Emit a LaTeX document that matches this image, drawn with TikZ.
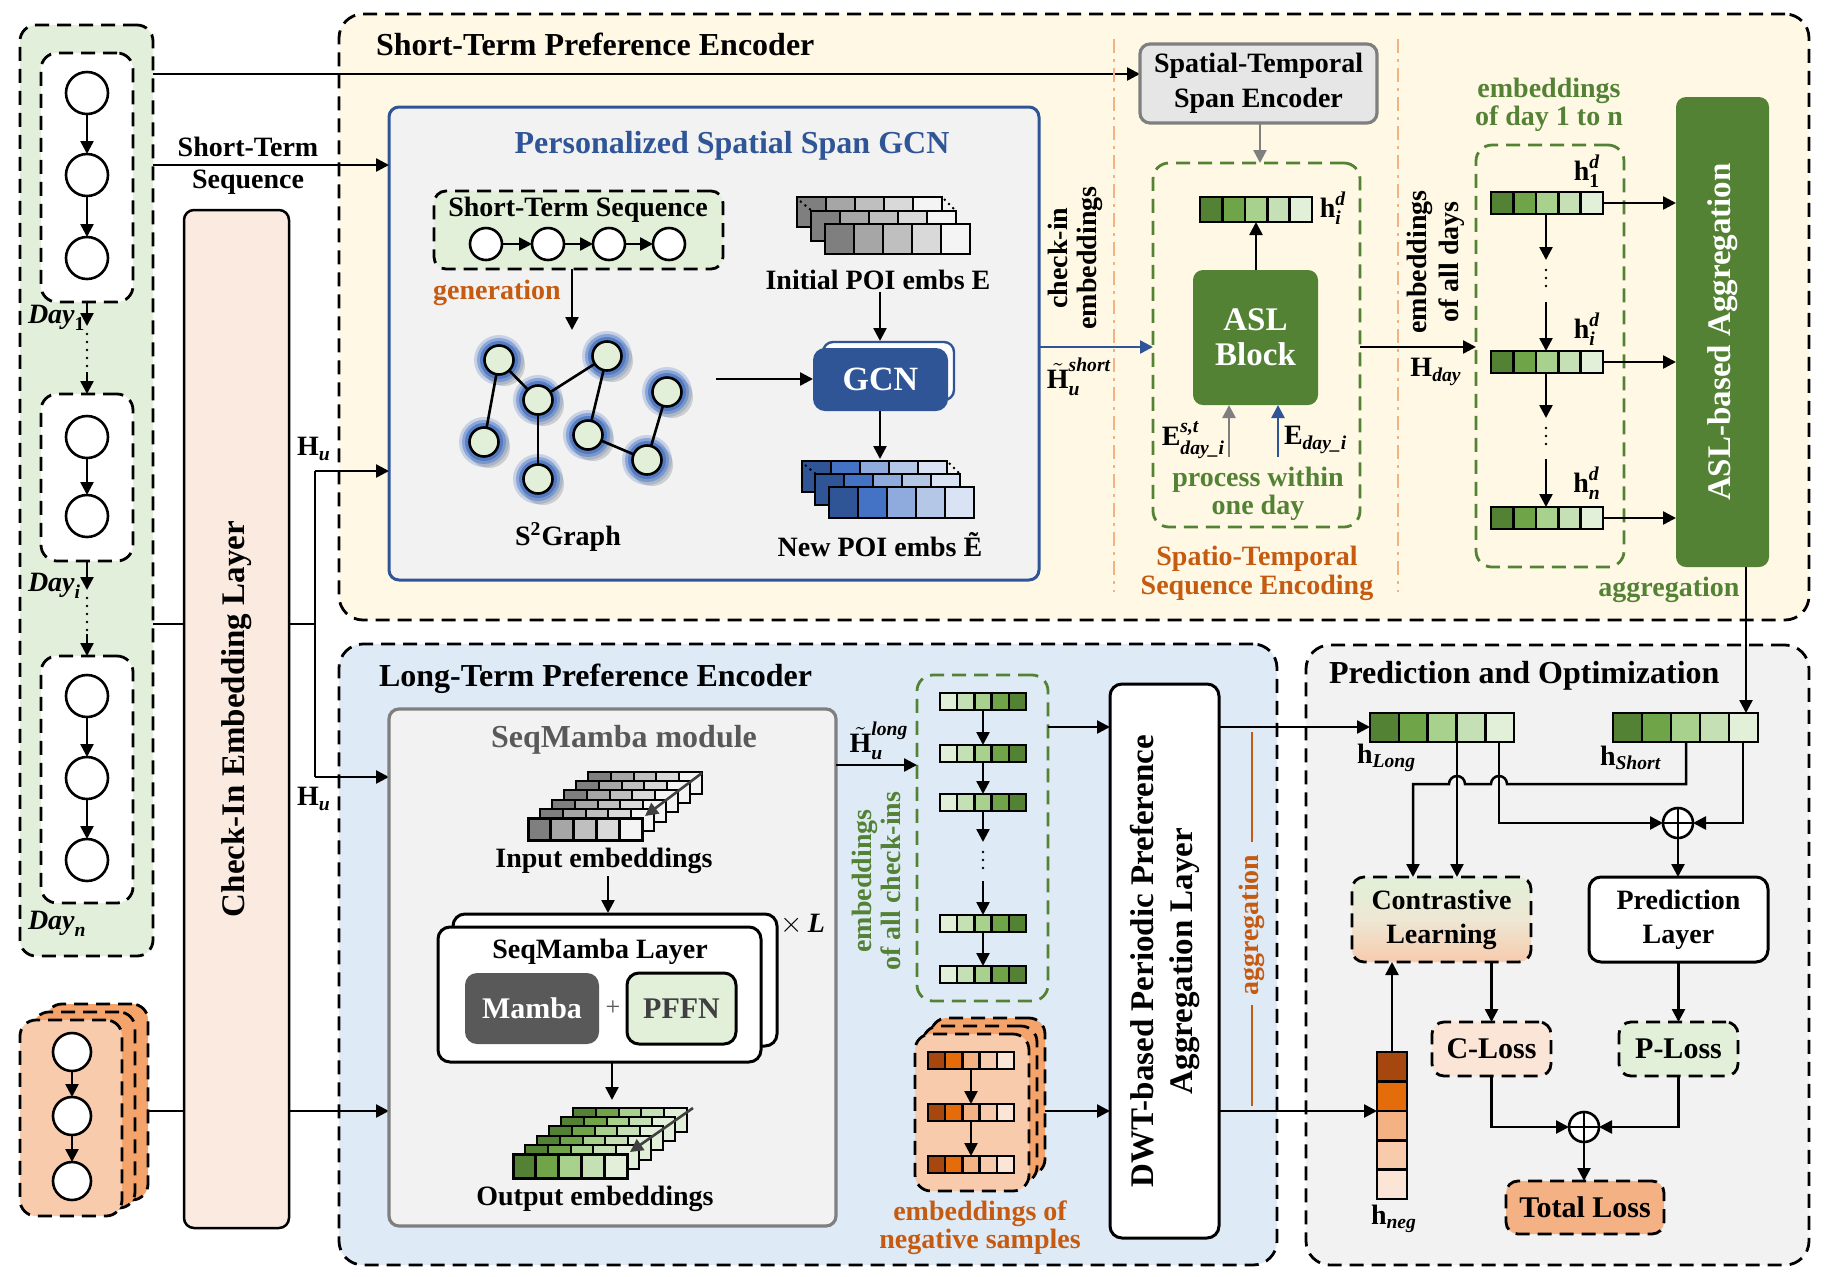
\documentclass[tikz,border=0pt]{standalone}
\usepackage{amsmath}
\usepackage{fontspec}
\setmainfont{Liberation Serif}
\usetikzlibrary{arrows.meta}
\definecolor{g1}{HTML}{548235}
\definecolor{g2}{HTML}{6FA548}
\definecolor{g3}{HTML}{A9D18E}
\definecolor{g4}{HTML}{C5E0B4}
\definecolor{g5}{HTML}{E2F0D9}
\definecolor{o1}{HTML}{A5470E}
\definecolor{o2}{HTML}{E46C0A}
\definecolor{o3}{HTML}{F4B183}
\definecolor{o4}{HTML}{F8CBAD}
\definecolor{o5}{HTML}{FBE5D6}
\definecolor{b1}{HTML}{2F5597}
\definecolor{b2}{HTML}{4472C4}
\definecolor{b3}{HTML}{8FAADC}
\definecolor{b4}{HTML}{B4C7E7}
\definecolor{b5}{HTML}{DAE3F3}
\definecolor{k1}{HTML}{7F7F7F}
\definecolor{k2}{HTML}{A6A6A6}
\definecolor{k3}{HTML}{BFBFBF}
\definecolor{k4}{HTML}{D9D9D9}
\definecolor{k5}{HTML}{F4F4F4}
\definecolor{dayg}{HTML}{E2EFDA}
\definecolor{cream}{HTML}{FFF8E5}
\definecolor{ltblue}{HTML}{DEEBF7}
\definecolor{ltgray}{HTML}{F2F2F2}
\definecolor{peach}{HTML}{FBEAE0}
\definecolor{orgtxt}{HTML}{C55A11}
\definecolor{orgback}{HTML}{F4A46A}
\definecolor{stgray}{HTML}{E7E6E6}
\definecolor{dgray}{HTML}{595959}
\definecolor{ddgray}{HTML}{404040}
\definecolor{midcl}{HTML}{EDE7D3}
\newcommand\fsz[2]{\fontsize{#1}{#2}\selectfont}
\newcommand\bnode[7][]{%
  \pgfmathsetmacro\bw{((#5)-(#3))*0.5}%
  \pgfmathsetmacro\bh{((#6)-(#4))*0.5}%
  \node[inner sep=0pt,outer sep=0pt,minimum width=\bw pt,minimum height=\bh pt,#1] (#2) at ({((#3)+(#5))/2},{((#4)+(#6))/2}) {#7};}
\newcommand\cellrow[6][1.3pt]{%
  \foreach \cc [count=\k from 0] in {#6} {%
    \filldraw[fill=\cc, draw=black, line width=#1] ({(#2)+\k*(#4)},{#3}) rectangle ++({#4},{#5});}}
\tikzset{
  every node/.style={inner sep=0pt, outer sep=0pt, font=\bfseries\fsz{14}{17}},
  arr/.style={line width=1.25pt, -{Triangle[length=6.5pt,width=6.5pt]}},
  ln/.style={line width=1.25pt},
  dsh/.style={line width=1.4pt, dash pattern=on 7pt off 4pt},
  dotln/.style={line width=1.4pt, line cap=round, dash pattern=on 0pt off 4pt},
  dc/.style={circle, draw, fill=white, line width=1.3pt, minimum size=21pt},
  sc/.style={circle, draw, fill=white, line width=1.3pt, minimum size=16pt},
  nc/.style={circle, draw, fill=white, line width=1.3pt, minimum size=19pt},
  gn/.style={circle, draw, fill=g5, line width=1.3pt, minimum size=14.5pt},
  oplus/.style={circle, draw, fill=white, line width=1.3pt, minimum size=15pt},
  ttl/.style={font=\bfseries\fsz{16}{19}},
}
\begin{document}
\begin{tikzpicture}[x=0.5pt,y=-0.5pt]
\useasboundingbox[fill=white] (0,0) rectangle (1828,1276);

% ---------------- panels ----------------
\bnode[draw,dsh,fill=dayg,rounded corners=8pt]{dayp}{20}{25}{153}{956}{}
\bnode[draw,dsh,fill=cream,rounded corners=12pt]{stp}{339}{14}{1809}{620}{}
\bnode[draw,dsh,fill=ltblue,rounded corners=12pt]{ltp}{339}{644}{1277}{1265}{}
\bnode[draw,dsh,fill=ltgray,rounded corners=12pt]{pop}{1306}{645}{1809}{1265}{}
\node[ttl,anchor=west] (stt) at (376,44) {Short-Term Preference Encoder};
\node[ttl,anchor=west] (ltt) at (379,679) {Long-Term Preference Encoder};
\node[ttl,anchor=west] (pot) at (1329,676) {Prediction and Optimization};

% ---------------- day sequences ----------------
\bnode[draw,dsh,fill=white,rounded corners=8pt]{d1}{41}{53}{133}{302}{}
\bnode[draw,dsh,fill=white,rounded corners=8pt]{di}{41}{394}{133}{561}{}
\bnode[draw,dsh,fill=white,rounded corners=8pt]{dn}{41}{656}{133}{903}{}
\node[dc] (c11) at (87,93) {};
\node[dc] (c12) at (87,175) {};
\node[dc] (c13) at (87,258) {};
\node[dc] (ci1) at (87,437) {};
\node[dc] (ci2) at (87,516) {};
\node[dc] (cn1) at (87,696) {};
\node[dc] (cn2) at (87,778) {};
\node[dc] (cn3) at (87,860) {};
\draw[arr] (c11) -- (c12);
\draw[arr] (c12) -- (c13);
\draw[arr] (ci1) -- (ci2);
\draw[arr] (cn1) -- (cn2);
\draw[arr] (cn2) -- (cn3);
\coordinate (a1) at (87,326); \coordinate (a2) at (87,334); \coordinate (a3) at (87,372);
\draw[arr] (d1.south) -- (a1);
\draw[dotln] (a2) -- (a3);
\draw[arr] (a3) -- (di.north);
\coordinate (b1c) at (87,590); \coordinate (b2c) at (87,598); \coordinate (b3c) at (87,634);
\draw[arr] (di.south) -- (b1c);
\draw[dotln] (b2c) -- (b3c);
\draw[arr] (b3c) -- (dn.north);
\node[anchor=west] (dl1) at (28,318) {$\textit{Day}_{\text{1}}$};
\node[anchor=west] (dli) at (28,586) {$\textit{Day}_{\textit{i}}$};
\node[anchor=west] (dln) at (28,924) {$\textit{Day}_{\textit{n}}$};

% ---------------- negative input stack ----------------
\bnode[draw,dsh,fill=orgback,rounded corners=8pt]{ng3}{46}{1004}{148}{1200}{}
\bnode[draw,dsh,fill=orgback,rounded corners=8pt]{ng2}{33}{1012}{135}{1208}{}
\bnode[draw,dsh,fill=o4,rounded corners=8pt]{ng1}{20}{1020}{122}{1216}{}
\node[nc] (nc1) at (72,1052) {};
\node[nc] (nc2) at (72,1116) {};
\node[nc] (nc3) at (72,1181) {};
\draw[arr] (nc1) -- (nc2);
\draw[arr] (nc2) -- (nc3);

% ---------------- check-in embedding layer ----------------
\bnode[draw,ln,fill=peach,rounded corners=5pt]{cil}{184}{210}{289}{1228}{}
\node[rotate=90,font=\bfseries\fsz{16.5}{19}] (cilt) at (cil.center) {Check-In Embedding Layer};

% ---------------- personalized spatial span GCN ----------------
\bnode[draw=b1,line width=1.5pt,fill=ltgray,rounded corners=5pt]{pss}{389}{107}{1039}{580}{}
\node[ttl,text=b1] (psst) at (732,146) {Personalized Spatial Span GCN};
\bnode[draw,dsh,fill=g5,rounded corners=6pt]{stsq}{434}{191}{723}{269}{}
\node (stsqt) at (578,210) {Short-Term Sequence};
\node[sc] (s1) at (486,244) {};
\node[sc] (s2) at (548,244) {};
\node[sc] (s3) at (609,244) {};
\node[sc] (s4) at (669,244) {};
\draw[arr] (s1) -- (s2);
\draw[arr] (s2) -- (s3);
\draw[arr] (s3) -- (s4);
\coordinate (gs) at (572,269); \coordinate (ge) at (572,330);
\draw[arr] (gs) -- (ge);
\node[text=orgtxt] (gen) at (497,293) {generation};
% graph
\foreach \px/\py in {499/360,538/400,607/356,484/442,538/479,588/435,667/392,647/460}{
  \fill[black,opacity=0.15] (\px+5,\py+5) circle (21);
  \fill[b2,opacity=0.25] (\px,\py) circle (25);
  \fill[b2,opacity=0.45] (\px,\py) circle (22);
  \fill[b2,opacity=0.75] (\px,\py) circle (19);
}
\node[gn] (n1) at (499,360) {};
\node[gn] (n2) at (538,400) {};
\node[gn] (n3) at (607,356) {};
\node[gn] (n4) at (484,442) {};
\node[gn] (n5) at (538,479) {};
\node[gn] (n6) at (588,435) {};
\node[gn] (n7) at (667,392) {};
\node[gn] (n8) at (647,460) {};
\foreach \u/\v in {n1/n2,n1/n4,n2/n3,n2/n5,n3/n6,n6/n8,n8/n7} \draw[line width=1.3pt] (\u) -- (\v);
\node (sgl) at (568,537) {S$^{\text{2}}$Graph};
% initial POI embeddings
\cellrow{797}{197}{29}{30}{k1,k2,k3,k4,k5}
\cellrow{811}{211}{29}{30}{k1,k2,k3,k4,k5}
\cellrow{825}{224}{29}{30}{k1,k2,k3,k4,k5}
\draw[line width=1pt,dotted] (800,201) -- (812,211);
\draw[line width=1pt,dotted] (944,199) -- (956,211);
\node (ipe) at (878,280) {Initial POI embs E};
\bnode[draw=b1,fill=white,line width=1.2pt,rounded corners=5pt]{gcnb}{823}{342}{954}{400}{}
\bnode[fill=b1,rounded corners=6pt,text=white,font=\bfseries\fsz{17}{20}]{gcn}{813}{348}{948}{411}{GCN}
\coordinate (ipa) at (880,292); \coordinate (ipb) at (880,341);
\draw[arr] (ipa) -- (ipb);
\coordinate (gra) at (716,379);
\draw[arr] (gra) -- (gcn.west |- 0,379);
\coordinate (npa) at (880,459);
\draw[arr] (gcn.south -| 880,0) -- (npa);
\cellrow{802}{461}{29}{31}{b1,b2,b3,b4,b5}
\cellrow{815}{474}{29}{31}{b1,b2,b3,b4,b5}
\cellrow{829}{487}{29}{31}{b1,b2,b3,b4,b5}
\draw[line width=1pt,dotted] (805,465) -- (817,475);
\draw[line width=1pt,dotted] (949,463) -- (961,475);
\node (npe) at (880,545) {New POI embs Ẽ};

% ---------------- left connectors ----------------
\node[font=\bfseries\fsz{14}{17}] (stl1) at (248,147) {Short-Term};
\node[font=\bfseries\fsz{14}{17}] (stl2) at (248,182) {Sequence};
\draw[arr] (dayp.east |- 0,74) -- (1140,74);
\draw[arr] (dayp.east |- 0,165) -- (pss.west |- 0,165);
\coordinate (hu) at (315,624);
\coordinate (hut) at (315,471);
\coordinate (hub) at (315,777);
\draw[ln] (dayp.east |- 0,624) -- (cil.west |- 0,624);
\draw[ln] (cil.east |- 0,624) -- (hu);
\draw[ln] (hut) -- (hub);
\draw[arr] (hut) -- (pss.west |- 0,471);
\draw[arr] (hub) -- (389,777);
\node (hu1) at (314,449) {$\text{H}_{\textit{u}}$};
\node (hu2) at (314,799) {$\text{H}_{\textit{u}}$};
\draw[ln] (ng3.east |- 0,1111) -- (cil.west |- 0,1111);
\draw[arr] (cil.east |- 0,1111) -- (389,1111);

% ---------------- spatio-temporal sequence encoding ----------------
\draw[draw=o3,line width=1.2pt,dash pattern=on 7pt off 3pt on 1.5pt off 3pt] (1114,39) -- (1114,592);
\draw[draw=o3,line width=1.2pt,dash pattern=on 7pt off 3pt on 1.5pt off 3pt] (1398,39) -- (1398,592);
\bnode[draw=k1,fill=stgray,line width=1.6pt,rounded corners=5pt,align=center,font=\bfseries\fsz{14}{17.5}]{stse}{1140}{44}{1377}{123}{Spatial-Temporal\\Span Encoder}
\bnode[draw=g1,dsh,rounded corners=8pt]{asl}{1153}{163}{1360}{527}{}
\draw[arr,draw=k1] (stse.south -| 1260,0) -- (asl.north -| 1260,0);
\draw[arr,draw=b1] (pss.east |- 0,347) -- (asl.west |- 0,347);
\node[rotate=90,align=center,font=\bfseries\fsz{14}{14.5}] (cie) at (1075,258) {check-in\\embeddings};
\node (hsh) at (1079,377) {$\tilde{\text{H}}^{\textit{short}}_{\textit{u}}$};
\cellrow{1200}{197}{22.4}{25}{g1,g2,g3,g4,g5}
\node (hid) at (1333,208) {$\text{h}^{\textit{d}}_{\textit{i}}$};
\bnode[fill=g1,rounded corners=5pt,text=white,align=center,font=\bfseries\fsz{16.5}{17.5}]{aslb}{1193}{270}{1318}{405}{ASL\\Block}
\coordinate (hidb) at (1256,222);
\draw[arr] (aslb.north -| 1256,0) -- (hidb);
\coordinate (ea) at (1229,457); \coordinate (eb) at (1278,457);
\draw[arr,draw=k1] (ea) -- (aslb.south -| 1229,0);
\draw[arr,draw=b1] (eb) -- (aslb.south -| 1278,0);
\node[anchor=east] (est) at (1225,440) {$\text{E}^{\textit{s,t}}_{\textit{day\_i}}$};
\node[anchor=west] (ed) at (1284,440) {$\text{E}_{\textit{day\_i}}$};
\node[text=g1,align=center,font=\bfseries\fsz{14}{14}] (pw) at (1258,494) {process within\\one day};
\node[text=orgtxt,align=center,font=\bfseries\fsz{14}{14.5}] (ste) at (1257,573) {Spatio-Temporal\\Sequence Encoding};

% ---------------- day embeddings ----------------
\bnode[draw=g1,dsh,rounded corners=8pt]{days}{1476}{145}{1624}{567}{}
\draw[arr] (asl.east |- 0,347) -- (days.west |- 0,347);
\node[rotate=90,align=center,font=\bfseries\fsz{14}{16}] (ead) at (1436,262) {embeddings\\of all days};
\node (hday) at (1436,372) {$\text{H}_{\textit{day}}$};
\node[text=g1,align=center,font=\bfseries\fsz{14}{14}] (edn) at (1549,105) {embeddings\\of day 1 to n};
\cellrow{1491}{192}{22.4}{22}{g1,g2,g3,g4,g5}
\cellrow{1491}{351}{22.4}{22}{g1,g2,g3,g4,g5}
\cellrow{1491}{507}{22.4}{22}{g1,g2,g3,g4,g5}
\node (h1d) at (1587,171) {$\text{h}^{\textit{d}}_{\text{1}}$};
\node (hid2) at (1587,329) {$\text{h}^{\textit{d}}_{\textit{i}}$};
\node (hnd) at (1587,483) {$\text{h}^{\textit{d}}_{\textit{n}}$};
\draw[arr] (1546,214) -- (1546,260);
\draw[dotln] (1546,270) -- (1546,292);
\draw[arr] (1546,302) -- (1546,351);
\draw[arr] (1546,373) -- (1546,418);
\draw[dotln] (1546,428) -- (1546,450);
\draw[arr] (1546,459) -- (1546,507);
\bnode[fill=g1,rounded corners=5pt]{aslagg}{1676}{97}{1769}{567}{}
\node[rotate=90,text=white,font=\bfseries\fsz{16.5}{19}] (aslaggt) at (aslagg.center) {ASL-based Aggregation};
\draw[arr] (1603,203) -- (aslagg.west |- 0,203);
\draw[arr] (1603,362) -- (aslagg.west |- 0,362);
\draw[arr] (1603,518) -- (aslagg.west |- 0,518);
\node[text=g1] (aggg) at (1669,590) {aggregation};

% ---------------- long-term: SeqMamba ----------------
\bnode[draw=k1,fill=ltgray,line width=1.6pt,rounded corners=5pt]{smm}{389}{709}{836}{1226}{}
\node[ttl,text=dgray] (smt) at (624,740) {SeqMamba module};
\foreach \i in {5,4,3,2,1}{\cellrow[1pt]{528+12*\i}{818-9.2*\i}{22.8}{22}{k1,k2,k3,k4,k5}}
\cellrow[1.5pt]{528}{818}{22.8}{22}{k1,k2,k3,k4,k5}
\draw[line width=1.3pt,draw=ddgray,-{Triangle[length=6.5pt,width=6.5pt]}] (702,773) -- (645,816);
\node (inp) at (604,861) {Input embeddings};
\coordinate (ina) at (608,876); \coordinate (inb) at (608,913);
\draw[arr] (ina) -- (inb);
\bnode[draw,fill=white,line width=1.5pt,rounded corners=6pt]{sml2}{453}{914}{777}{1046}{}
\bnode[draw,fill=white,line width=1.5pt,rounded corners=6pt]{sml}{438}{927}{761}{1062}{}
\node (smlt) at (600,952) {SeqMamba Layer};
\node (xl) at (803,925) {{\mdseries$\times$}\,\textit{L}};
\bnode[fill=dgray,rounded corners=6pt,text=white,font=\bfseries\fsz{15}{18}]{mam}{465}{973}{599}{1044}{Mamba}
\node[font=\mdseries\fsz{13}{13},text=dgray] (plus) at (613,1008) {+};
\bnode[draw,line width=1.5pt,fill=g5,rounded corners=6pt,text=ddgray,font=\bfseries\fsz{15}{18}]{pffn}{627}{973}{736}{1044}{PFFN}
\coordinate (oua) at (612,1100);
\draw[arr] (sml.south -| 612,0) -- (oua);
\foreach \i in {5,4,3,2,1}{\cellrow[1pt]{513+12*\i}{1154-9.2*\i}{22.8}{24}{g1,g2,g3,g4,g5}}
\cellrow[1.5pt]{513}{1154}{22.8}{24}{g1,g2,g3,g4,g5}
\draw[line width=1.3pt,draw=ddgray,-{Triangle[length=6.5pt,width=6.5pt]}] (693,1108) -- (630,1152);
\node (oute) at (595,1199) {Output embeddings};

% ---------------- all check-ins ----------------
\node (hlg) at (879,741) {$\tilde{\text{H}}^{\textit{long}}_{\textit{u}}$};
\bnode[draw=g1,dsh,rounded corners=8pt]{chk}{917}{675}{1048}{1001}{}
\draw[arr] (smm.east |- 0,765) -- (chk.west |- 0,765);
\foreach \yy in {693,745,794,915,966}{\cellrow[1.2pt]{940}{\yy}{17.2}{17}{g5,g4,g3,g2,g1}}
\draw[arr] (983,710) -- (983,745);
\draw[arr] (983,762) -- (983,794);
\draw[arr] (983,811) -- (983,842);
\draw[dotln] (983,852) -- (983,872);
\draw[arr] (983,881) -- (983,915);
\draw[arr] (983,932) -- (983,966);
\node[rotate=90,text=g1,align=center,font=\bfseries\fsz{14}{14.5}] (eac) at (876,881) {embeddings\\of all check-ins};

% ---------------- negative samples ----------------
\bnode[draw,dsh,fill=orgback,rounded corners=8pt]{nb3}{931}{1018}{1045}{1175}{}
\bnode[draw,dsh,fill=orgback,rounded corners=8pt]{nb2}{923}{1026}{1037}{1183}{}
\bnode[draw,dsh,fill=o4,rounded corners=8pt]{nb1}{915}{1034}{1029}{1191}{}
\foreach \yy in {1052,1104,1156}{\cellrow[1.2pt]{928}{\yy}{17.2}{17}{o1,o2,o3,o4,o5}}
\draw[arr] (971,1069) -- (971,1104);
\draw[arr] (971,1121) -- (971,1156);
\node[text=orgtxt,align=center,font=\bfseries\fsz{14}{14}] (negl) at (980,1228) {embeddings of\\negative samples};

% ---------------- DWT ----------------
\bnode[draw,fill=white,line width=1.5pt,rounded corners=6pt]{dwt}{1110}{684}{1219}{1238}{}
\node[rotate=90,align=center,font=\bfseries\fsz{16.5}{19.5}] (dwtt) at (1165,961) {DWT-based Periodic Preference\\Aggregation Layer};
\draw[arr] (chk.east |- 0,727) -- (dwt.west |- 0,727);
\draw[arr] (nb3.east |- 0,1111) -- (dwt.west |- 0,1111);
\draw[draw=orgtxt,line width=1.3pt] (1252,732) -- (1252,842);
\node[rotate=90,text=orgtxt] (aggo) at (1252,925) {aggregation};
\draw[draw=orgtxt,line width=1.3pt] (1252,1005) -- (1252,1106);

% ---------------- prediction and optimization ----------------
\cellrow{1370}{713}{28.8}{29}{g1,g2,g3,g4,g5}
\cellrow{1613}{713}{29}{29}{g1,g2,g3,g4,g5}
\coordinate (hLw) at (1370,727);
\coordinate (hSn) at (1746,713);
\draw[arr] (dwt.east |- 0,727) -- (hLw);
\draw[arr] (aslagg.south -| 1746,0) -- (hSn);
\node[anchor=west] (hlL) at (1357,758) {$\text{h}_{\textit{Long}}$};
\node[anchor=west] (hlS) at (1600,758) {$\text{h}_{\textit{Short}}$};
\node[oplus] (pl1) at (1678,823) {};
\draw[line width=1.3pt] (pl1.north) -- (pl1.south) (pl1.west) -- (pl1.east);
\bnode[draw,dsh,top color=g5,bottom color=o4,middle color=midcl,rounded corners=6pt,align=center,font=\bfseries\fsz{14}{17}]{cl}{1352}{877}{1531}{962}{Contrastive\\Learning}
\bnode[draw,line width=1.5pt,fill=white,rounded corners=6pt,align=center,font=\bfseries\fsz{14}{17}]{pred}{1589}{877}{1768}{962}{Prediction\\Layer}
\draw[arr] (1457,742) -- (cl.north -| 1457,0);
\draw[arr] (1499,742) -- (1499,823) -- (pl1.west);
\draw[arr] (1686,742) -- (1686,784) -- (1507,784) arc[start angle=0,end angle=-180,radius=8] -- (1465,784) arc[start angle=0,end angle=-180,radius=8] -- (1413,784) -- (cl.north -| 1413,0);
\draw[arr] (1743,742) -- (1743,823) -- (pl1.east);
\draw[arr] (pl1.south) -- (pred.north -| pl1.south);
\bnode[draw,dsh,fill=o5,rounded corners=6pt,font=\bfseries\fsz{15}{18}]{closs}{1432}{1022}{1551}{1076}{C-Loss}
\bnode[draw,dsh,fill=g5,rounded corners=6pt,font=\bfseries\fsz{15}{18}]{ploss}{1619}{1022}{1738}{1076}{P-Loss}
\draw[arr] (cl.south -| closs.north) -- (closs.north);
\draw[arr] (pred.south -| ploss.north) -- (ploss.north);
\node[oplus] (pl2) at (1584,1127) {};
\draw[line width=1.3pt] (pl2.north) -- (pl2.south) (pl2.west) -- (pl2.east);
\bnode[draw,dsh,fill=o3,rounded corners=6pt,font=\bfseries\fsz{15}{18}]{tl}{1506}{1181}{1664}{1234}{Total Loss}
\draw[arr] (closs.south) -- (closs.south |- pl2) -- (pl2.west);
\draw[arr] (ploss.south) -- (ploss.south |- pl2) -- (pl2.east);
\draw[arr] (pl2.south) -- (tl.north -| pl2.south);
\foreach \cc [count=\k from 0] in {o1,o2,o3,o4,o5}{\filldraw[fill=\cc,draw=black,line width=1.3pt] (1377,{1052+\k*29.4}) rectangle ++(30,29.4);}
\coordinate (hng) at (1392,1052);
\coordinate (hnw) at (1377,1111);
\draw[arr] (hng) -- (cl.south -| hng);
\draw[arr] (dwt.east |- 0,1111) -- (hnw);
\node (hnl) at (1394,1219) {$\text{h}_{\textit{neg}}$};
\end{tikzpicture}
\end{document}
